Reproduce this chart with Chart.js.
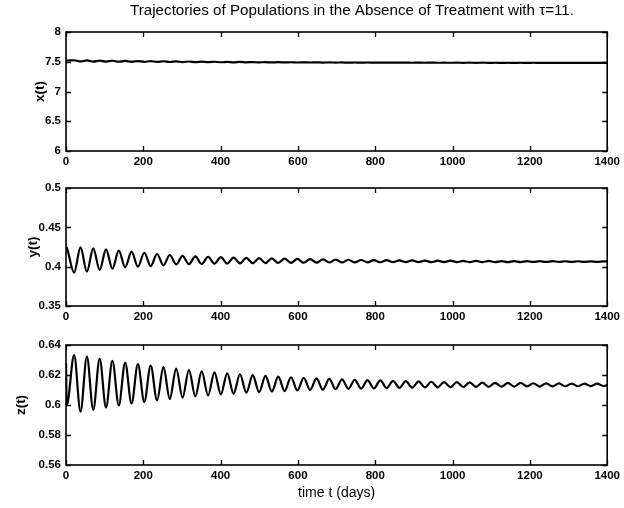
<!DOCTYPE html>
<html><head><meta charset="utf-8">
<script src="https://cdn.jsdelivr.net/npm/chart.js@4"></script>
<style>
html,body{margin:0;padding:0;background:#fff;}
#wrap{position:relative;width:624px;height:508px;overflow:hidden;background:#fff;}
canvas{position:absolute;left:0;}
</style></head><body>
<div id="wrap">
<canvas id="c1" width="624" height="172" style="top:0px"></canvas>
<canvas id="c2" width="624" height="158" style="top:172px"></canvas>
<canvas id="c3" width="624" height="178" style="top:330px"></canvas>
<canvas id="c0" width="624" height="26" style="top:0px"></canvas>
</div>
<script>
// ---- data (days; extrema of the oscillations) ----
const tGrid = [0, 2, 21, 37.5, 54, 70.5, 87, 103.5, 120, 136.5, 153, 169.5, 186, 202.5, 219, 235.5, 252, 268.5, 285, 301.5, 318, 334.5, 351, 367.5, 384, 400.5, 417, 433.5, 450, 466.5, 483, 499.5, 516, 532.5, 549, 565.5, 582, 598.5, 615, 631.5, 648, 664.5, 681, 697.5, 714, 730.5, 747, 763.5, 780, 796.5, 813, 829.5, 846, 862.5, 879, 895.5, 912, 928.5, 945, 961.5, 978, 994.5, 1011, 1027.5, 1044, 1060.5, 1077, 1093.5, 1110, 1126.5, 1143, 1159.5, 1176, 1192.5, 1209, 1225.5, 1242, 1258.5, 1275, 1291.5, 1308, 1324.5, 1341, 1357.5, 1374, 1390.5, 1400];

const xValues = [7.52, 7.52,
 7.525, 7.505, 7.522, 7.503, 7.519, 7.502, 7.517, 7.500, 7.514, 7.499, 7.512, 7.498, 7.510, 7.497, 7.508, 7.496, 7.506, 7.495, 7.504, 7.494,
 7.502, 7.493, 7.500, 7.492, 7.498, 7.491, 7.497, 7.490, 7.495, 7.489, 7.494, 7.488, 7.493, 7.488, 7.492, 7.487, 7.491, 7.487, 7.490, 7.486, 7.489, 7.486,
 7.488, 7.485, 7.487, 7.485, 7.487, 7.484, 7.486, 7.484, 7.486, 7.484, 7.485, 7.483, 7.485, 7.483, 7.485, 7.483, 7.484, 7.483, 7.484, 7.482,
 7.484, 7.482, 7.484, 7.482, 7.483, 7.482, 7.483, 7.482, 7.483, 7.481, 7.483, 7.481, 7.482, 7.481, 7.482, 7.481, 7.482, 7.481, 7.482, 7.481, 7.482, 7.481,
 7.481];

const yValues = [0.425, 0.424,
 0.3923, 0.4246, 0.3936, 0.4233, 0.3958, 0.4220, 0.3974, 0.4203, 0.3992, 0.4190, 0.4000, 0.4177, 0.4008, 0.4161, 0.4017, 0.4148, 0.4030, 0.4136,
 0.4031, 0.4131, 0.4034, 0.4126, 0.4037, 0.4121, 0.4040, 0.4116, 0.4042, 0.4112,
 0.4044, 0.4108, 0.4046, 0.4105, 0.4048, 0.4101, 0.4049, 0.4098, 0.4050, 0.4095,
 0.4051, 0.4092, 0.4053, 0.4089, 0.4054, 0.4088, 0.4054, 0.4085, 0.4055, 0.4083,
 0.4056, 0.4082, 0.4057, 0.4080, 0.4057, 0.4079, 0.4058, 0.4077, 0.4057, 0.4076,
 0.4058, 0.4076, 0.4058, 0.4074, 0.4058, 0.4073, 0.4059, 0.4073, 0.4059, 0.4071,
 0.4059, 0.4071, 0.4059, 0.4070, 0.4060, 0.4070, 0.4060, 0.4070, 0.4061, 0.4069,
 0.4061, 0.4069, 0.4061, 0.4068, 0.4062, 0.4068,
 0.4065];

const zValues = [0.628, 0.600,
 0.6333, 0.5956, 0.6322, 0.5968, 0.6308, 0.5983, 0.6295, 0.5997, 0.6283, 0.6010,
 0.6272, 0.6021, 0.6262, 0.6031, 0.6252, 0.6040, 0.6243, 0.6049, 0.6234, 0.6057,
 0.6225, 0.6064, 0.6218, 0.6071, 0.6211, 0.6076, 0.6205, 0.6082, 0.6199, 0.6086,
 0.6194, 0.6090, 0.6189, 0.6093, 0.6185, 0.6097, 0.6181, 0.6100, 0.6177, 0.6102,
 0.6174, 0.6105, 0.6171, 0.6108, 0.6168, 0.6109, 0.6166, 0.6111, 0.6164, 0.6113,
 0.6161, 0.6114, 0.6159, 0.6116, 0.6157, 0.6117, 0.6155, 0.6118, 0.6153, 0.6119,
 0.6152, 0.6120, 0.6151, 0.6121, 0.6149, 0.6121, 0.6148, 0.6122, 0.6147, 0.6123,
 0.6147, 0.6124, 0.6145, 0.6123, 0.6144, 0.6124, 0.6144, 0.6125, 0.6143, 0.6125,
 0.6143, 0.6126, 0.6142, 0.6126,
 0.6134];

const xTicks = [0, 200, 400, 600, 800, 1000, 1200, 1400];
const xTickLabels = ['0', '200', '400', '600', '800', '1000', '1200', '1400'];
const xPanelTicks = [6, 6.5, 7, 7.5, 8];
const xPanelLabels = ['6', '6.5', '7', '7.5', '8'];
const yPanelTicks = [0.35, 0.4, 0.45, 0.5];
const yPanelLabels = ['0.35', '0.4', '0.45', '0.5'];
const zPanelTicks = [0.56, 0.58, 0.6, 0.62, 0.64];
const zPanelLabels = ['0.56', '0.58', '0.6', '0.62', '0.64'];

const chartTitle = 'Trajectories of Populations in the Absence of Treatment with \u03c4=11.';
const xAxisTitle = 'time t (days)';

// ---- drawing ----
const FONT = "'Liberation Sans', Arial, Helvetica, sans-serif";

const framePlugin = {
  id: 'frame',
  afterDraw(chart) {
    const {ctx, chartArea: a, scales: {x, y}} = chart;
    ctx.save();
    ctx.strokeStyle = '#000';
    ctx.lineWidth = 1.6;
    ctx.strokeRect(a.left, a.top, a.right - a.left, a.bottom - a.top);
    ctx.lineWidth = 1.3;
    const L = 5;
    ctx.beginPath();
    x.ticks.forEach(t => {
      const p = Math.round(x.getPixelForValue(t.value)) + 0.5;
      ctx.moveTo(p, a.bottom); ctx.lineTo(p, a.bottom - L);
      ctx.moveTo(p, a.top); ctx.lineTo(p, a.top + L);
    });
    y.ticks.forEach(t => {
      const p = Math.round(y.getPixelForValue(t.value)) + 0.5;
      ctx.moveTo(a.left, p); ctx.lineTo(a.left + L, p);
      ctx.moveTo(a.right, p); ctx.lineTo(a.right - L, p);
    });
    ctx.stroke();
    ctx.restore();
  }
};

// figure title (own transparent canvas so it can sit where the reference puts it)
new Chart(document.getElementById('c0'), {
  type: 'line',
  data: {datasets: []},
  options: {
    responsive: false, animation: false, devicePixelRatio: 1,
    layout: {padding: {left: 95, right: 15, top: 0, bottom: 0}},
    plugins: {
      legend: {display: false}, tooltip: {enabled: false},
      title: {
        display: true, text: chartTitle, color: '#000', fullSize: true,
        font: {family: FONT, size: 15.2, weight: 'normal'},
        padding: {top: 2, bottom: 0}
      }
    },
    scales: {x: {display: false}, y: {display: false}}
  }
});

function makeChart(id, vals, yMin, yMax, yTicks, yLabels, yTitle, yTitlePad, padTop, xHeight, withXTitle) {
  return new Chart(document.getElementById(id), {
    type: 'line',
    data: {
      datasets: [{
        data: tGrid.map((t, i) => ({x: t, y: vals[i]})),
        borderColor: '#000',
        borderWidth: 2.2,
        pointRadius: 0,
        cubicInterpolationMode: 'monotone',
        fill: false
      }]
    },
    options: {
      responsive: false,
      animation: false,
      devicePixelRatio: 1,
      layout: {padding: {top: padTop, right: 15, left: 0, bottom: 0}},
      plugins: {
        legend: {display: false},
        tooltip: {enabled: false}
      },
      scales: {
        x: {
          type: 'linear', min: 0, max: 1400,
          grid: {display: false, drawTicks: false},
          border: {display: false},
          afterBuildTicks: s => { s.ticks = xTicks.map(v => ({value: v})); },
          ticks: {
            color: '#000', padding: 4, maxRotation: 0, autoSkip: false,
            font: {family: FONT, size: 11.5, weight: 'bold'},
            callback: (v, i) => xTickLabels[i]
          },
          title: {
            display: withXTitle, text: xAxisTitle, color: '#000',
            font: {family: FONT, size: 14}, padding: {top: 0, bottom: 6}
          },
          afterFit: s => { s.height = xHeight; }
        },
        y: {
          min: yMin, max: yMax,
          grid: {display: false, drawTicks: false},
          border: {display: false},
          afterBuildTicks: s => { s.ticks = yTicks.map(v => ({value: v})); },
          ticks: {
            color: '#000', padding: 5, autoSkip: false,
            font: {family: FONT, size: 11.5, weight: 'bold'},
            callback: (v, i) => yLabels[i]
          },
          title: {
            display: true, text: yTitle, color: '#000',
            font: {family: FONT, size: 13.5, weight: 'bold'}, padding: {top: yTitlePad, bottom: 0}
          },
          afterFit: s => { s.width = 66; }
        }
      }
    },
    plugins: [framePlugin]
  });
}

makeChart('c1', xValues, 6, 8, xPanelTicks, xPanelLabels, 'x(t)', 32, 32, 21, false);
makeChart('c2', yValues, 0.35, 0.5, yPanelTicks, yPanelLabels, 'y(t)', 25, 16, 24, false);
makeChart('c3', zValues, 0.56, 0.64, zPanelTicks, zPanelLabels, 'z(t)', 13, 15, 43, true);
</script>
</body></html>
